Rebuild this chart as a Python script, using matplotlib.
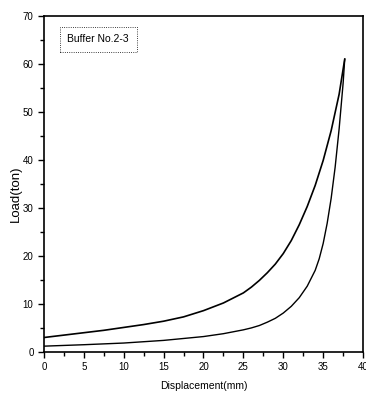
import matplotlib
matplotlib.use("Agg")
import matplotlib.pyplot as plt
from matplotlib.ticker import MultipleLocator

plt.rcParams['font.family'] = ['Liberation Sans Narrow', 'Liberation Sans', 'DejaVu Sans']

# loading curve (upper)
x_load = [0, 2.5, 5, 7.5, 10, 12.5, 15, 17.5, 20, 22.5, 25, 26, 27, 28, 29, 30,
          31, 32, 33, 34, 35, 36, 37, 37.7]
y_load = [3.0, 3.5, 4.0, 4.5, 5.1, 5.7, 6.4, 7.3, 8.6, 10.2, 12.3, 13.5, 14.9, 16.5, 18.3, 20.5,
          23.2, 26.5, 30.3, 34.7, 39.9, 46.1, 53.7, 61.0]

# unloading curve (lower)
x_unload = [0, 5, 10, 15, 20, 22.5, 25, 26, 27, 28, 29, 30, 31, 32, 33, 34, 34.5, 35,
            35.5, 36, 36.5, 37, 37.5, 37.7]
y_unload = [1.2, 1.5, 1.85, 2.4, 3.2, 3.8, 4.6, 5.0, 5.5, 6.2, 7.0, 8.1, 9.5, 11.3, 13.7, 17.0, 19.4, 22.6,
            26.8, 32.0, 38.5, 46.5, 56.0, 61.0]

label = "Buffer No.2-3"

fig = plt.figure(figsize=(3.66, 3.99), dpi=100)
ax = fig.add_axes([0.120, 0.118, 0.872, 0.842])

ax.plot(x_load, y_load, color='black', lw=1.2)
ax.plot(x_unload, y_unload, color='black', lw=1.0)

ax.set_xlim(0, 40)
ax.set_ylim(0, 70)
ax.xaxis.set_major_locator(MultipleLocator(5))
ax.xaxis.set_minor_locator(MultipleLocator(2.5))
ax.yaxis.set_major_locator(MultipleLocator(10))
ax.yaxis.set_minor_locator(MultipleLocator(5))
ax.tick_params(which='both', direction='out', top=False, right=False, labelsize=7, width=1)
ax.tick_params(which='major', length=4)
ax.tick_params(which='minor', length=3)
ax.tick_params(axis='x', pad=3)
for s in ax.spines.values():
    s.set_linewidth(1.2)

ax.set_xlabel("Displacement(mm)", fontsize=7.5, labelpad=7)
ax.set_ylabel("Load(ton)", fontsize=9.5)
ax.yaxis.set_label_coords(-0.07, 0.47)

ax.text(0.17, 0.93, label, transform=ax.transAxes, ha='center', va='center', fontsize=7.5,
        bbox=dict(boxstyle='square,pad=0.75', fc='white', ec='black', lw=0.6, ls=':'))

fig.savefig("out.png", dpi=100)
